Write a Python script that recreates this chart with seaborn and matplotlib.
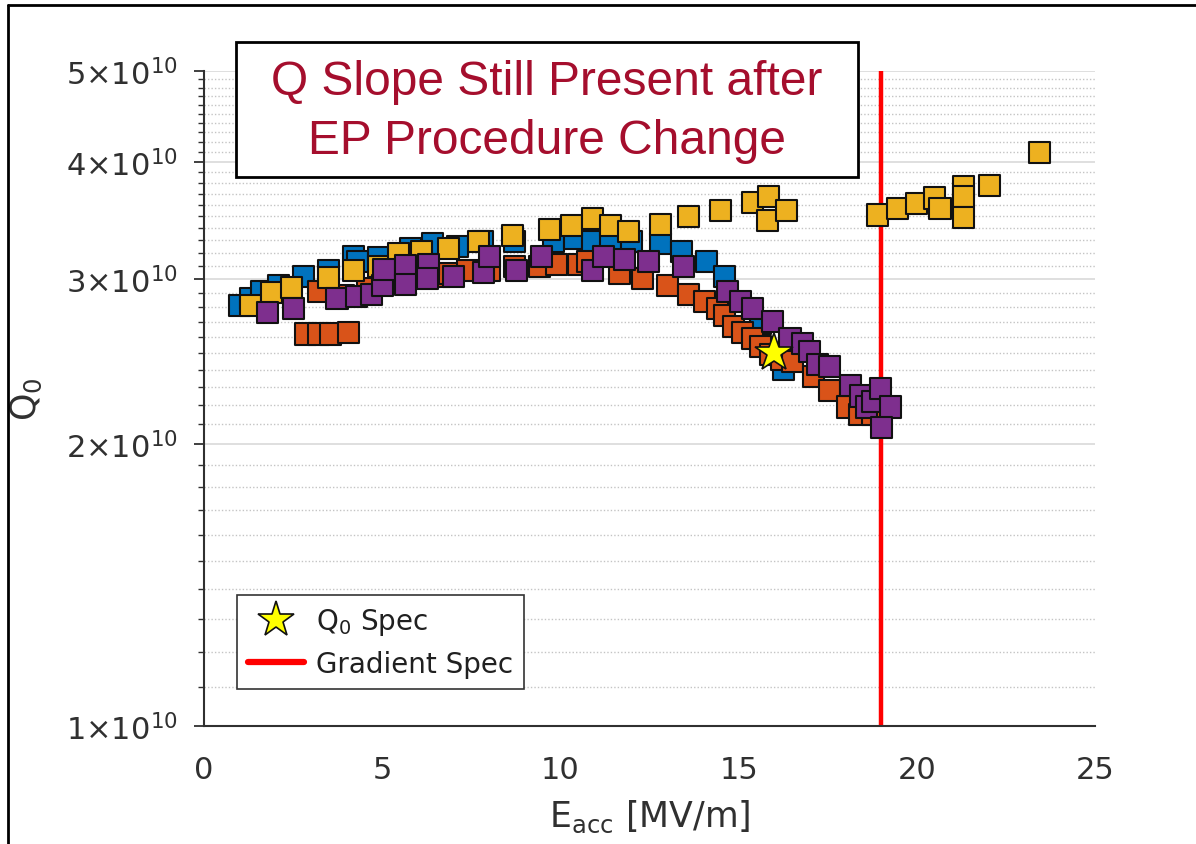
import numpy as np
import pandas as pd
import matplotlib
matplotlib.use("Agg")
import matplotlib.pyplot as plt
import seaborn as sns
from matplotlib.lines import Line2D
from matplotlib.patches import Rectangle
from matplotlib.ticker import FixedLocator, NullFormatter

# ---------------- data (E_acc in MV/m, Q0 in units of 1e10) ----------------
blue_E = [1.0, 1.3, 1.6, 2.1, 2.8, 3.5, 4.2, 4.3, 4.9, 5.8, 6.4, 7.1, 7.8, 8.7,
          9.8, 10.4, 10.9, 11.4, 12.0, 12.8, 13.4, 14.1, 14.6, 15.6, 16.25]
blue_Q = [2.81, 2.86, 2.91, 2.95, 3.02, 3.06, 3.17, 3.13, 3.16, 3.23, 3.27, 3.25,
          3.29, 3.29, 3.29, 3.31, 3.29, 3.29, 3.29, 3.27, 3.21, 3.13, 3.02, 2.69, 2.40]

orange_E = [2.85, 3.2, 3.55, 4.05, 3.2, 3.9, 4.6, 5.3, 6.0, 6.6, 6.9, 7.4, 8.0,
            8.7, 9.4, 9.9, 10.5, 10.75, 11.65, 12.3, 13.0, 13.6, 14.05, 14.4, 14.6,
            14.85, 15.1, 15.4, 15.6, 15.9, 16.2, 16.5, 17.1, 17.55, 18.05, 18.4, 18.75]
orange_Q = [2.62, 2.62, 2.62, 2.63, 2.91, 2.88, 2.93, 2.98, 3.02, 3.02, 3.04, 3.06,
            3.06, 3.09, 3.09, 3.11, 3.11, 3.13, 3.04, 3.00, 2.95, 2.89, 2.84, 2.79,
            2.74, 2.67, 2.63, 2.59, 2.54, 2.49, 2.46, 2.45, 2.36, 2.28, 2.19, 2.15, 2.15]

yellow_E = [1.3, 1.9, 2.45, 3.5, 4.2, 4.9, 5.45, 6.1, 6.85, 7.7, 8.65, 9.7, 10.3,
            10.9, 11.4, 11.9, 12.8, 13.6, 14.5, 15.4, 15.85, 15.8, 16.35, 18.9,
            19.45, 20.0, 20.5, 20.65, 21.3, 21.3, 21.3, 22.05, 23.45]
yellow_Q = [2.81, 2.90, 2.94, 3.01, 3.06, 3.09, 3.19, 3.21, 3.23, 3.29, 3.34, 3.39,
            3.42, 3.48, 3.42, 3.37, 3.43, 3.50, 3.55, 3.62, 3.67, 3.46, 3.55, 3.51,
            3.57, 3.61, 3.66, 3.57, 3.76, 3.67, 3.49, 3.77, 4.09]

purple_E = [1.77, 2.5, 3.73, 4.29, 4.71, 5.02, 5.05, 5.64, 5.64, 6.29, 6.26, 6.99,
            7.83, 8.02, 8.78, 9.48, 10.91, 11.2, 11.81, 12.46, 13.44, 14.7, 15.04,
            15.38, 15.94, 16.44, 16.8, 17.0, 17.2, 17.56, 18.13, 18.41, 18.6, 18.77,
            18.97, 19.25, 19.02]
purple_Q = [2.76, 2.79, 2.86, 2.87, 2.89, 2.95, 3.07, 3.10, 2.96, 3.11, 3.00, 3.02,
            3.05, 3.17, 3.06, 3.17, 3.06, 3.17, 3.15, 3.13, 3.09, 2.91, 2.84, 2.79,
            2.70, 2.59, 2.56, 2.51, 2.43, 2.42, 2.31, 2.25, 2.19, 2.22, 2.29, 2.19, 2.08]

series_names = ["blue", "orange", "yellow", "purple"]
series_colors = ["#0072BD", "#D95319", "#EDB120", "#7E2F8E"]

spec_E = [16.0]
spec_Q = [2.5]
gradient_spec = 19.0

ytick_vals = [1, 2, 3, 4, 5]
ytick_labels = [r"1×10$^{10}$", r"2×10$^{10}$", r"3×10$^{10}$", r"4×10$^{10}$", r"5×10$^{10}$"]
xtick_vals = [0, 5, 10, 15, 20, 25]

title_text = "Q Slope Still Present after\nEP Procedure Change"
legend_labels = [r"Q$_0$ Spec", "Gradient Spec"]

# ---------------- build frame ----------------
frames = []
for name, E, Q in zip(series_names,
                      [blue_E, orange_E, yellow_E, purple_E],
                      [blue_Q, orange_Q, yellow_Q, purple_Q]):
    frames.append(pd.DataFrame({"E": E, "Q": np.array(Q) * 1e10, "series": name}))
df = pd.concat(frames, ignore_index=True)

sns.set_theme(style="white")
plt.rcParams["font.family"] = ["DejaVu Sans"]
plt.rcParams["mathtext.fontset"] = "dejavusans"

fig = plt.figure(figsize=(11.96, 8.45), dpi=100)
ax = fig.add_axes([0.1706, 0.1396, 0.9156 - 0.1706, 0.9148 - 0.1396])

ax.set_yscale("log")
ax.set_xlim(0, 25)
ax.set_ylim(1e10, 5e10)

# grid lines (major solid, minor dotted)
ax.yaxis.set_major_locator(FixedLocator([v * 1e10 for v in ytick_vals]))
ax.yaxis.set_minor_locator(FixedLocator([v * 1e9 for v in range(10, 51) if v % 10 != 0]))
ax.yaxis.set_minor_formatter(NullFormatter())
ax.set_yticklabels(ytick_labels)
ax.set_xticks(xtick_vals)
ax.grid(False)
ax.yaxis.grid(True, which="major", color="#dcdcdc", linewidth=1.3, linestyle="-")
ax.yaxis.grid(True, which="minor", color="#c4c4c4", linewidth=1.0, linestyle=(0, (1, 1.5)))
ax.set_axisbelow(True)

sns.scatterplot(data=df, x="E", y="Q", hue="series", hue_order=series_names,
                palette=series_colors, marker="s", s=230, edgecolor="#111111",
                linewidth=1.5, legend=False, ax=ax, zorder=3)

ax.axvline(gradient_spec, color="#FF0000", linewidth=3.2, zorder=2)
ax.plot(spec_E, np.array(spec_Q) * 1e10, linestyle="none", marker="*", markersize=29,
        markerfacecolor="#FFFF00", markeredgecolor="#111111", markeredgewidth=1.2, zorder=5)

# spines & ticks
for s in ["top", "right"]:
    ax.spines[s].set_visible(False)
for s in ["left", "bottom"]:
    ax.spines[s].set_color("#303030")
    ax.spines[s].set_linewidth(1.5)
ax.tick_params(axis="both", which="major", direction="out", length=7, width=1.3,
               colors="#303030", labelsize=22, labelcolor="#303030")
ax.tick_params(axis="y", which="minor", direction="out", length=4, width=1.0, colors="#303030")
ax.tick_params(axis="x", which="major", pad=14)
ax.tick_params(axis="y", which="major", pad=12, left=True)
ax.tick_params(axis="y", which="minor", left=True)

ax.set_xlabel(r"E$_{\mathregular{acc}}$ [MV/m]", fontsize=25, color="#303030", labelpad=10)
ax.set_ylabel(r"Q$_0$", fontsize=25, color="#303030", labelpad=16)

# legend
handles = [Line2D([], [], linestyle="none", marker="*", markersize=27,
                  markerfacecolor="#FFFF00", markeredgecolor="#111111", markeredgewidth=1.2),
           Line2D([], [], color="#FF0000", linewidth=4.5)]
leg = ax.legend(handles=handles, labels=legend_labels, loc="lower left",
                bbox_to_anchor=(0.037, 0.0565), borderaxespad=0, fontsize=20,
                frameon=True, fancybox=False, edgecolor="#333333", framealpha=1,
                handlelength=2.0, handletextpad=0.45, labelspacing=0.45, borderpad=0.4)
leg.get_frame().set_linewidth(1.2)
for t in leg.get_texts():
    t.set_color("#202020")

# title box
fig.add_artist(Rectangle((236 / 1196, 1 - 178 / 845), 622 / 1196, 135 / 845,
                         transform=fig.transFigure, facecolor="white",
                         edgecolor="black", linewidth=2, zorder=10))
fig.text(547 / 1196, 1 - 112 / 845, title_text, ha="center", va="center",
         fontsize=34.5, color="#A50E2D", family=["Liberation Sans", "DejaVu Sans"],
         linespacing=1.38, zorder=11)

# figure border (top & left)
fig.add_artist(Line2D([8 / 1196, 1.0], [1 - 6 / 845, 1 - 6 / 845],
                      transform=fig.transFigure, color="black", linewidth=2))
fig.add_artist(Line2D([8 / 1196, 8 / 1196], [0, 1 - 6 / 845],
                      transform=fig.transFigure, color="black", linewidth=2))

fig.savefig("out.png", dpi=100, facecolor="white")
